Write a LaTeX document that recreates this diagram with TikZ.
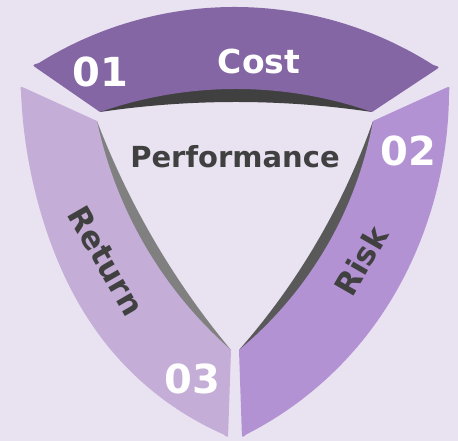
\documentclass[tikz,border=0pt]{standalone}
\usepackage{fontspec}
\setmainfont{DejaVu Sans}
\usepackage{xcolor}
\definecolor{Pale Lilac}{HTML}{E9E2F1}
\definecolor{Deep Lilac}{HTML}{8466A4}
\definecolor{Soft Lilac}{HTML}{B392D4}
\definecolor{Light Lilac}{HTML}{C4ADD6}
\colorlet{cBack}{Pale Lilac}
\colorlet{c1}{Deep Lilac}
\colorlet{c2}{Soft Lilac}
\colorlet{c3}{Light Lilac}
\colorlet{cInk}{black!75}
\usepackage{tikz}
\usetikzlibrary{calc, hobby}
\tikzset{
	x = 1pt,
	y = 1pt,
	band/.style={
		fill=#1,
		draw=none
	},
	rim/.style={
		fill=#1,
		draw=none
	},
	numtext/.style={
		text=white,
		inner sep=0pt,
		font=\bfseries\fontsize{40}{40}\selectfont
	},
	wordtext/.style={
		text=cInk,
		inner sep=0pt,
		font=\bfseries\fontsize{31}{31}\selectfont
	}
}

\begin{document}
\begin{tikzpicture}
		\fill[cBack] (0,0) rectangle (458,441);
		\useasboundingbox (0,0) rectangle (458,441);

		% top band
		\coordinate (t0) at (32,376);
		\coordinate (t1) at (236,434);
		\coordinate (t2) at (440,374);
		\coordinate (t3) at (372,329);
		\coordinate (t4) at (236,352);
		\coordinate (t5) at (100,329);
		\coordinate (t6) at (236,339);

		% left band
		\coordinate (l0) at (20,355);
		\coordinate (l1) at (43,221);
		\coordinate (l2) at (103,101);
		\coordinate (l3) at (228,3);
		\coordinate (l4) at (231,91);
		\coordinate (l5) at (139,206);
		\coordinate (l6) at (97,320);
		\coordinate (l7) at (151,206);

		% right band
		\coordinate (r0) at (450,355);
		\coordinate (r1) at (428,221);
		\coordinate (r2) at (363,101);
		\coordinate (r3) at (242,3);
		\coordinate (r4) at (239,91);
		\coordinate (r5) at (333,206);
		\coordinate (r6) at (373,320);
		\coordinate (r7) at (321,206);

		% shadows under the bands
		\fill[rim=black!75] (t5) to[curve through={(t6)}] (t3) -- (t1) -- cycle;
		\fill[rim=black!50] (l6) to[curve through={(l7)}] (l4) -- (l1) -- cycle;
		\fill[rim=black!65] (r4) to[curve through={(r7)}] (r6) -- (r1) -- cycle;

		\path[band=c1] ($(t0)!6pt!(t5)$) .. controls (t0) .. ($(t0)!7pt!(t1)$)
			to[curve through={(t1)}] ($(t2)!7pt!(t1)$) .. controls (t2) .. ($(t2)!6pt!(t3)$)
			-- (t3) to[curve through={(t4)}] (t5) -- cycle;
		\path[band=c3] ($(l0)!6pt!(l1)$) to[curve through={(l1) .. (l2)}] ($(l3)!6pt!(l2)$)
			.. controls (l3) .. ($(l3)!6pt!(l4)$) -- (l4) to[curve through={(l5)}] (l6)
			-- ($(l0)!6pt!(l6)$) .. controls (l0) .. ($(l0)!6pt!(l1)$) -- cycle;
		\path[band=c2] ($(r0)!6pt!(r6)$) -- (r6) to[curve through={(r5)}] (r4)
			-- ($(r3)!6pt!(r4)$) .. controls (r3) .. ($(r3)!6pt!(r2)$)
			to[curve through={(r2) .. (r1)}] ($(r0)!6pt!(r1)$) .. controls (r0) .. ($(r0)!6pt!(r6)$) -- cycle;

		\node[wordtext, font=\bfseries\fontsize{29}{29}\selectfont] (perf) at (235,284) {Performance};
		\node[wordtext, text=white, font=\bfseries\fontsize{33}{33}\selectfont] (cost) at (259,380) {Cost};
		\node[wordtext, rotate=-60] (ret) at (106,180) {Return};
		\node[wordtext, rotate=60] (risk) at (361,180) {Risk};
		\node[numtext] (n1) at (100,369) {01};
		\node[numtext] (n2) at (408,290) {02};
		\node[numtext] (n3) at (192,62) {03};
	\end{tikzpicture}
\end{document}
